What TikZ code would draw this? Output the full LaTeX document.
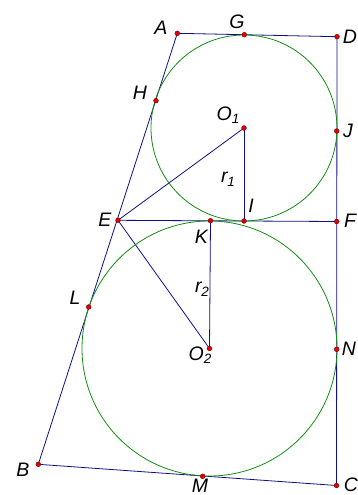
\documentclass[tikz,border=0pt]{standalone}
\usepackage{fontspec}
\setmainfont{Liberation Sans}
\definecolor{segblue}{RGB}{15,15,135}
\definecolor{circgreen}{RGB}{20,140,20}
\definecolor{ptred}{RGB}{230,0,0}
\definecolor{ptedge}{RGB}{110,0,0}
\newcommand{\lbsub}[2]{#1\raisebox{-0.35ex}{\fontsize{13.5}{13.5}\selectfont #2}}
\tikzset{
  seg/.style={draw=segblue, line width=0.8pt},
  circ/.style={draw=circgreen, line width=0.8pt},
  pt/.style={circle, fill=ptred, draw=ptedge, line width=0.4pt, inner sep=0pt, minimum size=4.8pt},
  lbl/.style={inner sep=0pt, font=\fontsize{19.5}{22}\selectfont\itshape}
}
\begin{document}
\begin{tikzpicture}[x=1pt,y=-1pt]
\useasboundingbox (0,0) rectangle (357,495);
\coordinate (A) at (177.3,33.3);
\coordinate (G) at (244.3,34.7);
\coordinate (D) at (337,36.7);
\coordinate (H) at (156,100.7);
\coordinate (O1) at (244,128);
\coordinate (J) at (336.7,131);
\coordinate (E) at (118,220.3);
\coordinate (K) at (210.5,220.7);
\coordinate (I) at (244,221);
\coordinate (F) at (336.7,221.5);
\coordinate (L) at (88.7,307);
\coordinate (O2) at (209.5,348.5);
\coordinate (N) at (336.7,349.3);
\coordinate (B) at (38.3,464.3);
\coordinate (M) at (202.7,476.3);
\coordinate (C) at (336.5,485.5);
% sides
\draw[seg] (A) -- (D) -- (C) -- (B) -- (A);
\draw[seg] (E) -- (F);
\draw[seg] (E) -- (O1);
\draw[seg] (E) -- (O2);
\draw[seg] (O1) -- (I);
\draw[seg] (K) -- (O2);
% circles
\draw[circ] (O1) circle[radius=93];
\draw[circ] (O2) circle[radius=127.5];
% points
\foreach \p in {A,G,D,H,O1,J,E,K,I,F,L,O2,N,B,M,C}
  \node[pt] (dot\p) at (\p) {};
% labels
\node[lbl] (lA) at (161,28) {A};
\node[lbl] (lG) at (237,22) {G};
\node[lbl] (lD) at (350,37) {D};
\node[lbl] (lH) at (140,93) {H};
\node[lbl] (lO1) at (228,115) {\lbsub{O}{1}};
\node[lbl] (lJ) at (348,131) {J};
\node[lbl] (lr1) at (228,179) {\lbsub{r}{1}};
\node[lbl] (lI) at (251,206) {I};
\node[lbl] (lF) at (350,221) {F};
\node[lbl] (lE) at (105,220) {E};
\node[lbl] (lK) at (201.5,236.5) {K};
\node[lbl] (lL) at (75,298) {L};
\node[lbl] (lr2) at (202,289) {\lbsub{r}{2}};
\node[lbl] (lO2) at (200,355) {\lbsub{O}{2}};
\node[lbl] (lN) at (349,349) {N};
\node[lbl] (lB) at (23,470) {B};
\node[lbl] (lM) at (200,486) {M};
\node[lbl] (lC) at (351,485) {C};
\end{tikzpicture}
\end{document}
